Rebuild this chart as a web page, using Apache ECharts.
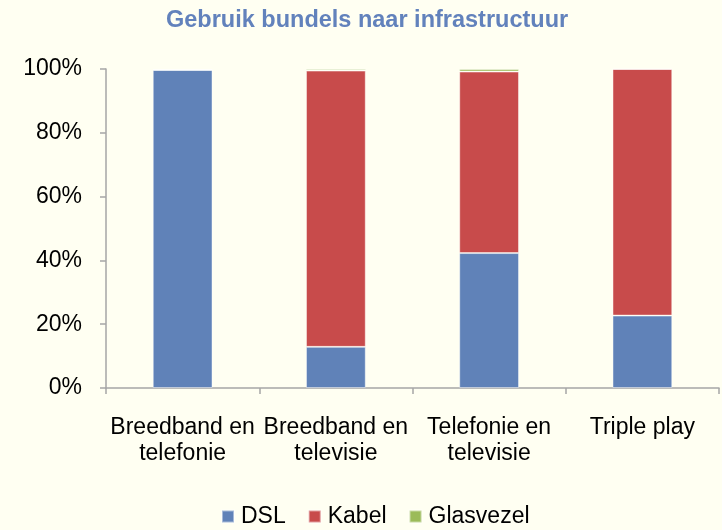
<!DOCTYPE html>
<html>
<head>
<meta charset="utf-8">
<script src="https://cdn.jsdelivr.net/npm/echarts@6/dist/echarts.min.js"></script>
<style>
  html, body { margin: 0; padding: 0; background: #fffff2; }
  #chart { width: 722px; height: 530px; }
</style>
</head>
<body>
<div id="chart"></div>
<script>
// categorieën en aandelen (%) per infrastructuur
const categories = ['Breedband en\ntelefonie', 'Breedband en\ntelevisie', 'Telefonie en\ntelevisie', 'Triple play']
const dsl = [99.7, 12.9, 42.3, 22.7]
const kabel = [0, 86.6, 56.9, 77.3]
const glasvezel = [0.3, 0.5, 0.8, 0]

const chart = echarts.init(document.getElementById('chart'))

const font = 'Liberation Sans, Arial, sans-serif'
const axisColor = '#a6a6a6'

const barBase = {
  type: 'bar',
  stack: 'totaal',
  barWidth: '39%',
  itemStyle: { borderColor: 'rgba(255,255,255,0.45)', borderWidth: 1 }
}

const option = {
  backgroundColor: '#fffff2',
  animation: false,
  title: {
    text: 'Gebruik bundels naar infrastructuur',
    left: 166,
    top: 9,
    padding: 0,
    textStyle: { color: '#6282bc', fontSize: 23.5, fontWeight: 'bold', fontFamily: font }
  },
  legend: {
    data: ['DSL', 'Kabel', 'Glasvezel'],
    top: 505,
    left: 221,
    padding: 0,
    icon: 'rect',
    itemWidth: 12,
    itemHeight: 12,
    itemGap: 22,
    textStyle: { color: '#000', fontSize: 23, fontFamily: font, padding: [0, 0, 0, 2] }
  },
  grid: { left: 106, right: 3, top: 69, bottom: 142 },
  xAxis: {
    type: 'category',
    data: categories,
    axisLine: { lineStyle: { color: axisColor, width: 1.5 } },
    axisTick: { show: true, length: 6, lineStyle: { color: axisColor, width: 1.5 } },
    axisLabel: { interval: 0, color: '#000', fontSize: 23, fontFamily: font, margin: 27, lineHeight: 26 }
  },
  yAxis: {
    type: 'value',
    min: 0,
    max: 100,
    interval: 20,
    axisLine: { show: true, lineStyle: { color: axisColor, width: 1.5 } },
    axisTick: { show: true, length: 6, lineStyle: { color: axisColor, width: 1.5 } },
    splitLine: { show: false },
    axisLabel: { formatter: '{value}%', color: '#000', fontSize: 23, fontFamily: font, margin: 24 }
  },
  series: [
    Object.assign({}, barBase, { name: 'DSL', data: dsl, color: '#6082b8' }),
    Object.assign({}, barBase, { name: 'Kabel', data: kabel, color: '#c84b4b' }),
    Object.assign({}, barBase, { name: 'Glasvezel', data: glasvezel, color: '#9bbb59' })
  ]
}

chart.setOption(option)
</script>
</body>
</html>
